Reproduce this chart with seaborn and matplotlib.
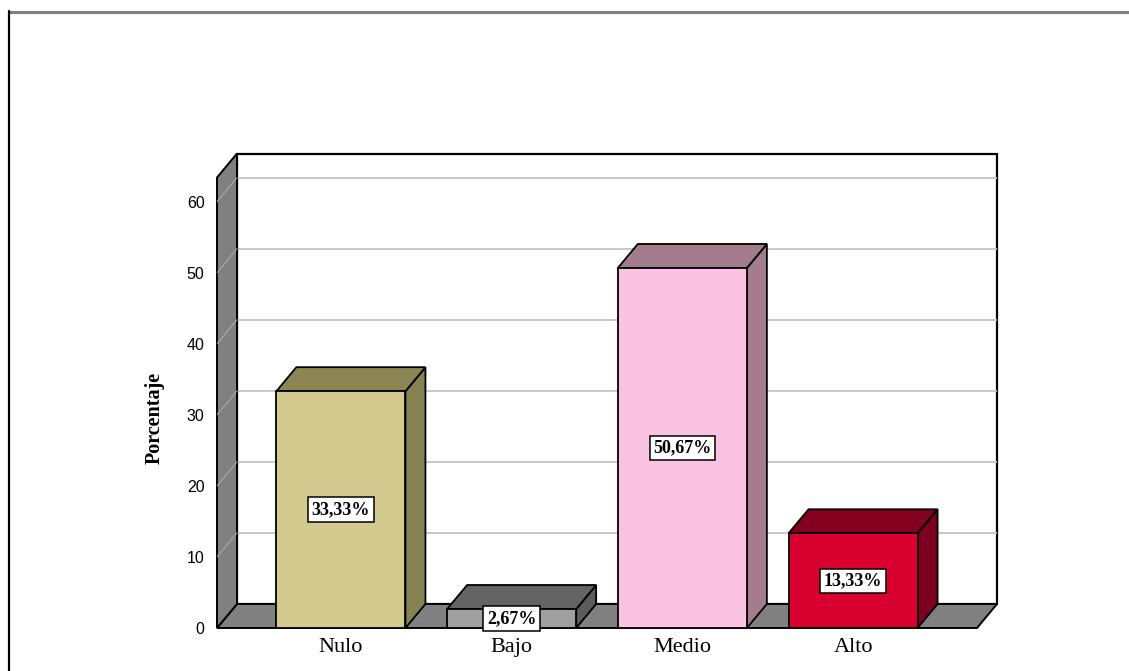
import matplotlib
matplotlib.use("Agg")
import matplotlib.pyplot as plt
from matplotlib.patches import Polygon
from matplotlib.lines import Line2D
import seaborn as sns
import pandas as pd

# Data
categorias = ["Nulo", "Bajo", "Medio", "Alto"]
porcentajes = [33.33, 2.67, 50.67, 13.33]
y_ticks = [0, 10, 20, 30, 40, 50, 60]

# Face colours of each bar: front, side, top
color_frente = ["#d2ca8e", "#a0a0a0", "#fac3e1", "#d8002e"]
color_lado = ["#878251", "#5c5c5c", "#a57c8e", "#7c0020"]
color_tapa = ["#8b8554", "#646464", "#a27b8d", "#84001f"]

sns.set_theme(style="white")
plt.rcParams["font.family"] = ["Liberation Sans", "DejaVu Sans"]
plt.rcParams["text.color"] = "black"
plt.rcParams["xtick.color"] = "black"
plt.rcParams["ytick.color"] = "black"

W, H = 1129, 671
fig = plt.figure(figsize=(W / 100, H / 100), dpi=100)

# 3D depth offsets (data units) and plot extents
dx, dy = 0.117, 3.38
x_left, x_right = -0.726, 3.843
y_top_front = 63.4
ymax = y_top_front + dy

left_px, right_px, bottom_px = 217, 997, 628
unit_px = 7.105
top_px = bottom_px - ymax * unit_px
ax = fig.add_axes([left_px / W, (H - bottom_px) / H,
                   (right_px - left_px) / W, (bottom_px - top_px) / H])

df = pd.DataFrame({"categoria": categorias, "porcentaje": porcentajes})
sns.barplot(data=df, x="categoria", y="porcentaje", hue="categoria",
            order=categorias, hue_order=categorias,
            palette=dict(zip(categorias, color_frente)), legend=False,
            width=0.756, edgecolor="black", linewidth=1.3, saturation=1,
            zorder=4, ax=ax)
barras = sorted(ax.patches, key=lambda p: p.get_x())

ax.set_xlim(x_left, x_right)
ax.set_ylim(0, ymax)
for s in ax.spines.values():
    s.set_visible(False)
ax.set_facecolor("none")

x_front_r = x_right - dx
x_back_l = x_left + dx

# Back wall
ax.add_patch(Polygon([(x_back_l, dy), (x_right, dy), (x_right, ymax), (x_back_l, ymax)],
                     closed=True, facecolor="white", edgecolor="black", lw=1.6, zorder=0.5,
                     clip_on=False))
# Gridlines on the back wall
for v in y_ticks[1:]:
    ax.plot([x_back_l, x_right], [v + dy, v + dy], color="#c4c4c4", lw=1.3, zorder=0.8)
# Left wall
ax.add_patch(Polygon([(x_left, 0), (x_left, y_top_front), (x_back_l, ymax), (x_back_l, dy)],
                     closed=True, facecolor="#808080", edgecolor="black", lw=1.4, zorder=1.5,
                     clip_on=False))
# Floor
ax.add_patch(Polygon([(x_left, 0), (x_front_r, 0), (x_right, dy), (x_back_l, dy)],
                     closed=True, facecolor="#808080", edgecolor="black", lw=1.4, zorder=1.4,
                     clip_on=False))
# Faint gridlines across the left wall
for v in y_ticks[1:]:
    ax.plot([x_left, x_back_l], [v, v + dy], color="#a8a8a8", lw=0.8, zorder=1.6)

# Side and top faces of the bars, plus value labels
for p, v, lado, tapa in zip(barras, porcentajes, color_lado, color_tapa):
    x0 = p.get_x()
    x1 = x0 + p.get_width()
    ax.add_patch(Polygon([(x1, 0), (x1, v), (x1 + dx, v + dy), (x1 + dx, dy)],
                         closed=True, facecolor=lado, edgecolor="black", lw=1.3, zorder=3.5))
    ax.add_patch(Polygon([(x0, v), (x1, v), (x1 + dx, v + dy), (x0 + dx, v + dy)],
                         closed=True, facecolor=tapa, edgecolor="black", lw=1.3, zorder=3.5))
    etiqueta = f"{v:.2f}".replace(".", ",") + "%"
    ax.text(x0 + p.get_width() / 2, v / 2, etiqueta, ha="center", va="center",
            fontsize=13, fontweight="bold", family=["Liberation Serif", "DejaVu Serif"],
            color="black", zorder=6,
            bbox=dict(boxstyle="square,pad=0.2", facecolor="white", edgecolor="black", lw=1.1))

ax.set_yticks(y_ticks)
ax.set_yticklabels([str(t) for t in y_ticks], fontsize=11.5)
ax.set_xticks(range(len(categorias)))
ax.set_xticklabels(categorias, fontsize=16, family=["Liberation Serif", "DejaVu Serif"])
ax.tick_params(axis="y", length=0, pad=9)
ax.tick_params(axis="x", length=0, pad=7)
ax.set_xlabel("")
ax.set_ylabel("")

fig.text(155 / W, 1 - 418 / H, "Porcentaje", rotation=90, ha="center", va="center",
         fontsize=14.5, fontweight="bold", family=["Liberation Serif", "DejaVu Serif"])

# Outer frame lines
fig.add_artist(Line2D([9 / W, 1], [1 - 11.5 / H, 1 - 11.5 / H], color="#808080", lw=2.2,
                      transform=fig.transFigure))
fig.add_artist(Line2D([9 / W, 9 / W], [0, 1 - 11 / H], color="black", lw=1.6,
                      transform=fig.transFigure))

fig.savefig("out.png", dpi=100)
